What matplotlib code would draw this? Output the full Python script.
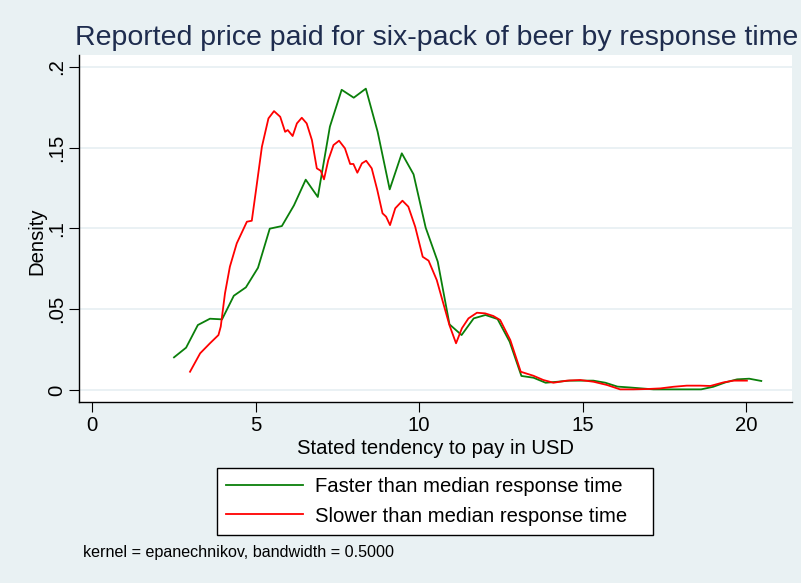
import matplotlib
matplotlib.use("Agg")
import matplotlib.pyplot as plt

# ---- data ----
faster_x = [2.50, 2.87, 3.23, 3.60, 3.97, 4.33, 4.70, 5.07, 5.43, 5.80,
            6.17, 6.53, 6.90, 7.27, 7.63, 8.00, 8.37, 8.73, 9.10, 9.47,
            9.83, 10.20, 10.57, 10.93, 11.30, 11.67, 12.03, 12.40, 12.77, 13.13,
            13.50, 13.87, 14.23, 14.60, 14.97, 15.33, 15.70, 16.07, 16.43, 16.80,
            17.17, 17.53, 17.90, 18.27, 18.63, 19.00, 19.37, 19.73, 20.10, 20.47]
faster_y = [0.0202, 0.0262, 0.0402, 0.0441, 0.0437, 0.0583, 0.0635, 0.0756, 0.0998, 0.1014,
            0.1142, 0.1301, 0.1194, 0.1629, 0.1857, 0.1808, 0.1864, 0.1598, 0.1241, 0.1464,
            0.1334, 0.1005, 0.0794, 0.0406, 0.0340, 0.0443, 0.0464, 0.0439, 0.0299, 0.0087,
            0.0076, 0.0045, 0.0051, 0.0058, 0.0058, 0.0058, 0.0045, 0.0021, 0.0016, 0.0010,
            0.0004, 0.0004, 0.0004, 0.0004, 0.0004, 0.0020, 0.0047, 0.0066, 0.0070, 0.0056]

slower_x = [2.99, 3.30, 3.60, 3.86, 3.93, 4.06, 4.21, 4.42, 4.73, 4.88,
            5.01, 5.19, 5.39, 5.56, 5.75, 5.90, 5.98, 6.13, 6.26, 6.41,
            6.56, 6.72, 6.87, 6.99, 7.09, 7.22, 7.38, 7.55, 7.73, 7.89,
            7.99, 8.11, 8.25, 8.38, 8.55, 8.72, 8.88, 8.99, 9.11, 9.27,
            9.49, 9.67, 9.88, 10.11, 10.29, 10.54, 10.74, 10.93, 11.13, 11.31,
            11.51, 11.77, 12.02, 12.27, 12.48, 12.79, 13.11, 13.50, 13.80, 14.11,
            14.52, 14.93, 15.34, 15.75, 16.15, 16.56, 16.97, 17.38, 17.78, 18.19,
            18.60, 18.91, 19.31, 19.62, 20.03]
slower_y = [0.0113, 0.0227, 0.0289, 0.0340, 0.0392, 0.0598, 0.0763, 0.0907, 0.1041, 0.1047,
            0.1237, 0.1505, 0.1680, 0.1725, 0.1690, 0.1597, 0.1608, 0.1571, 0.1649, 0.1684,
            0.1649, 0.1546, 0.1371, 0.1356, 0.1303, 0.1422, 0.1515, 0.1542, 0.1495, 0.1398,
            0.1398, 0.1344, 0.1402, 0.1418, 0.1371, 0.1237, 0.1093, 0.1072, 0.1020, 0.1124,
            0.1171, 0.1134, 0.1010, 0.0824, 0.0800, 0.0680, 0.0536, 0.0400, 0.0289, 0.0382,
            0.0443, 0.0478, 0.0474, 0.0458, 0.0433, 0.0309, 0.0113, 0.0088, 0.0062, 0.0045,
            0.0058, 0.0062, 0.0051, 0.0031, 0.0004, 0.0004, 0.0006, 0.0010, 0.0020, 0.0027,
            0.0027, 0.0025, 0.0047, 0.0058, 0.0058]

x_ticks = [0, 5, 10, 15, 20]
y_ticks = [0, 0.05, 0.1, 0.15, 0.2]
y_tick_labels = ["0", ".05", ".1", ".15", ".2"]

title = "Reported price paid for six-pack of beer by response time"
x_label = "Stated tendency to pay in USD"
y_label = "Density"
labels = ["Faster than median response time", "Slower than median response time"]
note = "kernel = epanechnikov, bandwidth = 0.5000"

# ---- styling ----
plt.rcParams['font.family'] = ['Liberation Sans', 'DejaVu Sans']
BG = '#E9F1F3'
W, H = 801, 583
FS = 14.6
fig = plt.figure(figsize=(W / 100, H / 100), dpi=100, facecolor=BG)

def fx(px):
    return px / W

def fy(py):
    return 1 - py / H

ax_l, ax_r, ax_t, ax_b = 79, 792, 54.7, 402.3
ax = fig.add_axes([fx(ax_l), fy(ax_b), fx(ax_r - ax_l), (ax_b - ax_t) / H])
ax.set_facecolor('white')

ax.plot(faster_x, faster_y, color='#0A7F0A', lw=1.3, label=labels[0])
ax.plot(slower_x, slower_y, color='#FF0000', lw=1.3, label=labels[1])

ax.set_xlim(-0.407, 21.41)
ax.set_ylim(-0.0076, 0.2074)
ax.set_xticks(x_ticks)
ax.set_xticklabels([str(t) for t in x_ticks])
ax.set_yticks(y_ticks)
ax.set_yticklabels(y_tick_labels, rotation=90, va='center')
ax.tick_params(axis='both', length=7, width=0.8, color='black', labelsize=FS, labelcolor='black')
ax.tick_params(axis='y', pad=2)
ax.tick_params(axis='x', pad=3)
ax.grid(axis='y', color='#E6EFF2', lw=1.2)
ax.set_axisbelow(True)
for s in ['top', 'right']:
    ax.spines[s].set_visible(False)
for s in ['left', 'bottom']:
    ax.spines[s].set_linewidth(1.0)
    ax.spines[s].set_color('black')

ax.set_xlabel(x_label, fontsize=FS, labelpad=3)
ax.set_ylabel(y_label, fontsize=FS)
ax.yaxis.set_label_coords((46 - ax_l) / (ax_r - ax_l), (ax_b - 241) / (ax_b - ax_t))

fig.text(fx(75), fy(45), title, fontsize=20.5, color='#1E2C4E', ha='left', va='baseline')

leg = fig.legend(loc='upper left',
                 bbox_to_anchor=(fx(216.7), fy(468.3), fx(653.3 - 216.7), 0.001),
                 mode='expand', fontsize=FS, frameon=True, fancybox=False,
                 edgecolor='black', facecolor='white', framealpha=1,
                 handlelength=3.8, handletextpad=0.55, labelspacing=0.5,
                 borderpad=0.48, borderaxespad=0)
leg.get_frame().set_linewidth(1.0)

fig.text(fx(83), fy(553), note, fontsize=11.6, ha='left', va='center', color='black')

fig.savefig('out.png', dpi=100, facecolor=BG)
